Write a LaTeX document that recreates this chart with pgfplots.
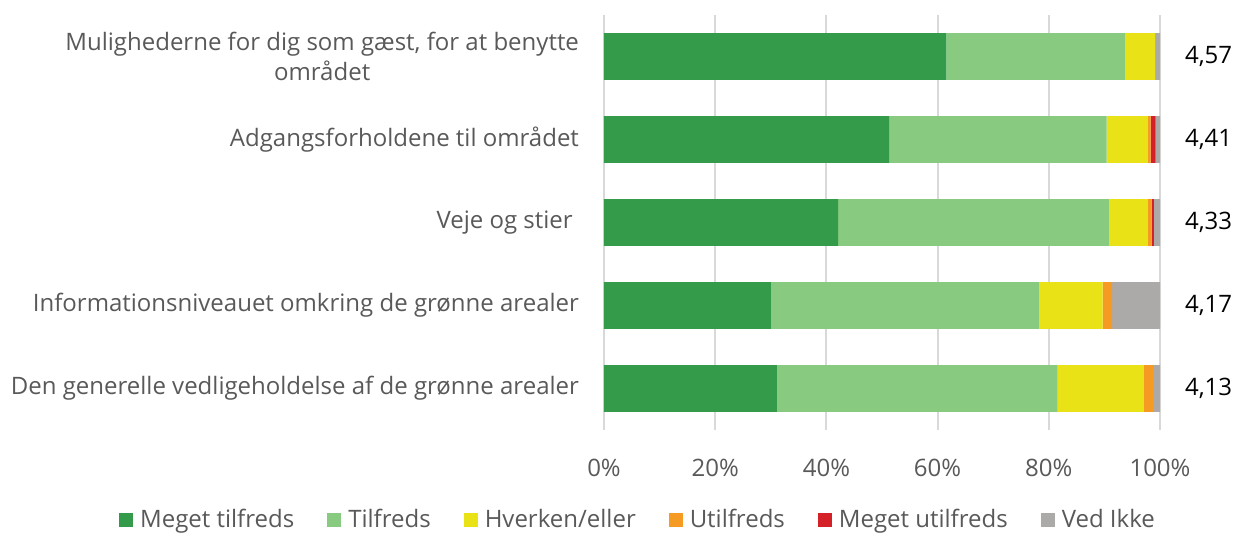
\documentclass[border=0pt]{standalone}
\usepackage{pgfplots}
\pgfplotsset{compat=1.18}
\usepackage{pgfplotstable}
\usepackage{fontspec}
\setmainfont{Open Sans}
\usepackage{xcolor}

\definecolor{mgreen}{HTML}{339B4A}
\definecolor{lgreen}{HTML}{88CB80}
\definecolor{myellow}{HTML}{E8E217}
\definecolor{morange}{HTML}{F59A22}
\definecolor{mred}{HTML}{D42027}
\definecolor{mgray}{HTML}{ABAAA9}
\definecolor{txt}{HTML}{595959}
\definecolor{gridc}{HTML}{D9D9D9}

% percent per answer, rows top to bottom
\pgfplotstableread{
y  meget tilfreds hverken util megetutil vedikke
0  61.6  32.1  5.4  0.0  0.0  0.9
1  51.3  39.1  7.4  0.5  0.9  0.8
2  42.1  48.7  7.0  0.7  0.4  1.1
3  30.0  48.2  11.5 1.7  0.0  8.6
4  31.1  50.5  15.5 1.6  0.0  1.3
}\svar

\begin{document}
\begin{tikzpicture}[font=\fontsize{12}{15}\selectfont]
\begin{axis}[
  xbar stacked,
  scale only axis,
  width=278pt, height=207.5pt,
  xmin=0, xmax=100,
  ymin=-0.5, ymax=4.5,
  y dir=reverse,
  bar width=23.4pt,
  axis line style={draw=none},
  xmajorgrids, grid style={gridc, line width=0.9pt},
  major tick length=0pt,
  xtick={0,20,...,100},
  xticklabels={0\%,20\%,40\%,60\%,80\%,100\%},
  xticklabel style={txt, yshift=-11pt},
  ytick={0,...,4},
  yticklabels={{Mulighederne for dig som gæst, for at benytte\\området},
    {Adgangsforholdene til området},
    {Veje og stier },
    {Informationsniveauet omkring de grønne arealer},
    {Den generelle vedligeholdelse af de grønne arealer}},
  yticklabel style={txt, align=center, xshift=-9pt},
  legend columns=6,
  legend style={draw=none, fill=none, text=txt,
    at={(axis description cs:0.063,-0.216)}, anchor=center,
    /tikz/every odd column/.append style={column sep=1.5pt},
    /tikz/every even column/.append style={column sep=14.5pt}},
  legend image code/.code={\fill[#1] (0pt,-3.5pt) rectangle (7pt,3.5pt);},
  clip=false,
]
\addplot[fill=mgreen, draw=none] table[x=meget, y=y] {\svar};
\addlegendentry{Meget tilfreds}
\addplot[fill=lgreen, draw=none] table[x=tilfreds, y=y] {\svar};
\addlegendentry{Tilfreds}
\addplot[fill=myellow, draw=none] table[x=hverken, y=y] {\svar};
\addlegendentry{Hverken/eller}
\addplot[fill=morange, draw=none] table[x=util, y=y] {\svar};
\addlegendentry{Utilfreds}
\addplot[fill=mred, draw=none] table[x=megetutil, y=y] {\svar};
\addlegendentry{Meget utilfreds}
\addplot[fill=mgray, draw=none] table[x=vedikke, y=y] {\svar};
\addlegendentry{Ved Ikke}

\node[anchor=west] at (axis cs:100,0) [xshift=9pt] {4,57};
\node[anchor=west] at (axis cs:100,1) [xshift=9pt] {4,41};
\node[anchor=west] at (axis cs:100,2) [xshift=9pt] {4,33};
\node[anchor=west] at (axis cs:100,3) [xshift=9pt] {4,17};
\node[anchor=west] at (axis cs:100,4) [xshift=9pt] {4,13};
\end{axis}
\pgfresetboundingbox
\path[use as bounding box] (current axis.south west) ++(-302pt,-51.5pt)
  rectangle ++(617.5pt,266.5pt);
\end{tikzpicture}
\end{document}
